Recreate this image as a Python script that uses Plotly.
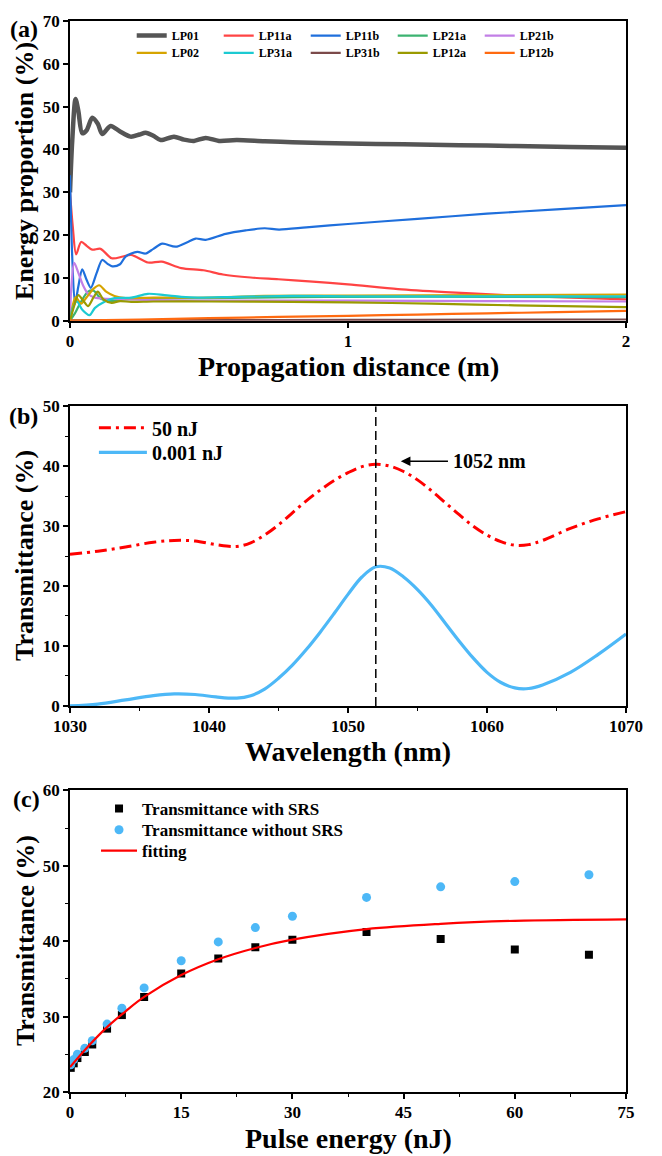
import plotly.graph_objects as go

FONT = "Liberation Serif"

# ---------------- Panel (a): mode energy vs propagation distance ----------------
LP01_x = [0, 0.008, 0.02, 0.03, 0.044, 0.06, 0.08, 0.1, 0.116, 0.146, 0.18, 0.218, 0.25, 0.272, 0.3, 0.326,
          0.374, 0.41, 0.446, 0.488, 0.536, 0.6, 0.7, 0.8, 1.0, 1.2, 1.4, 1.6, 1.8, 2.0]
LP01_y = [30, 42, 51.8, 49, 43.8, 44.5, 47.4, 46, 43.6, 45.5, 44.2, 43.0, 43.5, 43.9, 43.2, 42.2,
          43.0, 42.3, 42.0, 42.7, 42.0, 42.2, 41.9, 41.7, 41.4, 41.2, 41.0, 40.8, 40.6, 40.4]

LP11a_x = [0, 0.01, 0.022, 0.04, 0.06, 0.08, 0.11, 0.15, 0.19, 0.22, 0.28, 0.33, 0.4, 0.48, 0.55, 0.65,
           0.75, 0.86, 1.0, 1.18, 1.35, 1.53, 1.75, 2.0]
LP11a_y = [30, 22, 15.5, 18.4, 17.5, 16.6, 16.8, 14.6, 15.0, 15.4, 13.6, 13.8, 12.3, 11.8, 10.8, 10.1,
           9.7, 9.2, 8.5, 7.4, 6.7, 6.1, 5.5, 5.0]

LP11b_x = [0, 0.008, 0.018, 0.03, 0.044, 0.06, 0.075, 0.095, 0.116, 0.135, 0.152, 0.18, 0.2, 0.242, 0.272,
           0.3, 0.332, 0.38, 0.42, 0.452, 0.488, 0.56, 0.632, 0.7, 0.752, 0.85, 1.0, 1.25, 1.5, 1.75, 2.0]
LP11b_y = [34, 15, 4, 8, 12, 9.5, 7.7, 11, 14.2, 13.3, 12.7, 13.2, 15, 16.1, 15.7,
           16.8, 18, 17.3, 18.3, 19.2, 18.9, 20.3, 21.1, 21.6, 21.3, 21.8, 22.6, 23.8, 25.0, 26.0, 27.0]

LP21a_x = [0, 0.02, 0.04, 0.065, 0.085, 0.11, 0.14, 0.2, 0.3, 0.5, 0.8, 1.0, 1.5, 2.0]
LP21a_y = [0, 2.0, 4.5, 6.8, 7.0, 5.2, 4.6, 5.0, 5.2, 5.3, 5.5, 5.6, 5.6, 5.5]

LP21b_x = [0, 0.005, 0.015, 0.03, 0.048, 0.066, 0.09, 0.12, 0.2, 0.3, 0.5, 1.0, 1.5, 2.0]
LP21b_y = [0.5, 8, 13.5, 11.2, 8.1, 6.2, 5.4, 5.2, 5.0, 4.8, 4.7, 4.7, 4.6, 4.5]

LP02_x = [0, 0.02, 0.04, 0.06, 0.085, 0.105, 0.13, 0.16, 0.2, 0.3, 0.5, 0.7, 1.0, 1.5, 2.0]
LP02_y = [0, 5.5, 4.0, 5.5, 7.5, 8.3, 6.8, 5.8, 5.3, 5.4, 5.4, 5.8, 5.9, 6.0, 6.1]

LP31a_x = [0, 0.01, 0.025, 0.045, 0.07, 0.09, 0.126, 0.16, 0.22, 0.28, 0.34, 0.4, 0.46, 0.6, 0.8, 1.0, 1.5, 2.0]
LP31a_y = [0, 3, 4.5, 2.5, 1.3, 3.0, 4.5, 5.3, 5.4, 6.3, 6.0, 5.6, 5.4, 5.6, 5.8, 5.7, 5.7, 5.7]

LP31b_x = [0, 0.5, 1.0, 1.5, 2.0]
LP31b_y = [0.1, 0.15, 0.2, 0.25, 0.3]

LP12a_x = [0, 0.015, 0.03, 0.05, 0.065, 0.085, 0.1, 0.12, 0.15, 0.18, 0.22, 0.3, 0.5, 0.8, 1.0, 1.3, 1.6, 2.0]
LP12a_y = [0, 3.5, 6.0, 4.5, 3.4, 5.5, 6.8, 5.0, 4.2, 4.6, 4.4, 4.5, 4.5, 4.4, 4.3, 4.0, 3.6, 3.2]

LP12b_x = [0, 0.25, 0.5, 0.75, 1.0, 1.25, 1.5, 1.75, 2.0]
LP12b_y = [0.05, 0.3, 0.6, 0.9, 1.15, 1.45, 1.75, 2.0, 2.3]

# ---------------- Panel (b): transmittance spectra ----------------
wavelength = [1030, 1032, 1034, 1036, 1037.5, 1039, 1040.5, 1042, 1043, 1044, 1045, 1046, 1047, 1048, 1049,
              1050, 1051, 1052, 1053, 1054, 1055, 1056, 1057, 1058, 1059, 1060, 1061, 1062, 1063, 1064,
              1066, 1068, 1070]
trans_50nJ = [25.3, 25.8, 26.5, 27.3, 27.6, 27.5, 26.9, 26.6, 27.2, 28.5, 30.2, 32.2, 34.2, 36.0, 37.6,
              38.9, 39.9, 40.3, 40.0, 39.1, 37.7, 35.9, 33.9, 31.9, 30.0, 28.5, 27.4, 26.8, 26.9, 27.6,
              29.6, 31.2, 32.4]
trans_0001nJ = [0.0, 0.3, 1.0, 1.7, 2.0, 1.9, 1.5, 1.3, 1.7, 2.8, 4.6, 6.8, 9.4, 12.3, 15.4,
                18.6, 21.5, 23.2, 23.0, 21.5, 19.4, 16.8, 13.8, 10.8, 8.0, 5.6, 3.9, 3.0, 2.9, 3.5,
                5.6, 8.6, 12.0]
peak_wavelength = 1052
peak_label = "1052 nm"

# ---------------- Panel (c): transmittance vs pulse energy ----------------
pulse_energy = [0.1, 0.5, 1, 2, 3, 5, 7, 10, 15, 20, 25, 30, 40, 50, 60, 70]
trans_with_srs = [23.2, 23.8, 24.5, 25.3, 26.3, 28.4, 30.2, 32.6, 35.7, 37.7, 39.2, 40.2, 41.2, 40.3, 38.9, 38.2]
trans_without_srs = [23.6, 24.3, 25.0, 25.8, 26.8, 29.0, 31.1, 33.8, 37.4, 39.9, 41.8, 43.3, 45.8, 47.2, 47.9, 48.8]
fit_energy = [0, 2.5, 5, 7.5, 10, 15, 20, 25, 30, 40, 50, 60, 75]
fit_trans = [23.3, 26.1, 28.6, 30.7, 32.6, 35.5, 37.6, 39.1, 40.2, 41.6, 42.3, 42.7, 42.9]

# ---------------- Figure ----------------
fig = go.Figure()

row1 = [("LP01", LP01_x, LP01_y, "#555555", 4.5),
        ("LP11a", LP11a_x, LP11a_y, "#FF4444", 2.2),
        ("LP11b", LP11b_x, LP11b_y, "#1F6FDC", 2.2),
        ("LP21a", LP21a_x, LP21a_y, "#3CB371", 2.2),
        ("LP21b", LP21b_x, LP21b_y, "#C27FE6", 2.2)]
row2 = [("LP02", LP02_x, LP02_y, "#D6A400", 2.2),
        ("LP31a", LP31a_x, LP31a_y, "#1CCAD2", 2.2),
        ("LP31b", LP31b_x, LP31b_y, "#7B4A4A", 2.2),
        ("LP12a", LP12a_x, LP12a_y, "#9A9A00", 2.2),
        ("LP12b", LP12b_x, LP12b_y, "#FF6A10", 2.2)]
for lg, group in (("legend", row1), ("legend2", row2)):
    for name, xs, ys, color, w in group:
        fig.add_trace(go.Scatter(x=xs, y=ys, mode="lines", name=name, legend=lg,
                                 line=dict(color=color, width=w, shape="spline", smoothing=0.8),
                                 xaxis="x", yaxis="y"))

fig.add_trace(go.Scatter(x=wavelength, y=trans_50nJ, mode="lines", name="50 nJ", legend="legend3",
                         line=dict(color="#FF0000", width=3, dash="12px,5px,3px,5px", shape="spline"),
                         xaxis="x2", yaxis="y2"))
fig.add_trace(go.Scatter(x=wavelength, y=trans_0001nJ, mode="lines", name="0.001 nJ", legend="legend4",
                         line=dict(color="#4DB8F7", width=3.2, shape="spline"),
                         xaxis="x2", yaxis="y2"))

fig.add_trace(go.Scatter(x=pulse_energy, y=trans_with_srs, mode="markers", name="Transmittance with SRS",
                         legend="legend5", marker=dict(symbol="square", size=8, color="black"),
                         xaxis="x3", yaxis="y3"))
fig.add_trace(go.Scatter(x=pulse_energy, y=trans_without_srs, mode="markers", name="Transmittance without SRS",
                         legend="legend6", marker=dict(symbol="circle", size=9, color="#4DB8F7"),
                         xaxis="x3", yaxis="y3"))
fig.add_trace(go.Scatter(x=fit_energy, y=fit_trans, mode="lines", name="fitting", legend="legend7",
                         line=dict(color="#FF0000", width=2.2, shape="spline"),
                         xaxis="x3", yaxis="y3"))

tickfont = dict(family=FONT, size=17, color="black", weight="bold")


def axis(**kw):
    base = dict(showline=True, linecolor="black", linewidth=1.6, mirror=True, ticks="outside",
                ticklen=5, tickwidth=1.6, tickcolor="black", showgrid=False, zeroline=False,
                tickfont=tickfont)
    base.update(kw)
    return base


def minor(d):
    return dict(ticks="outside", ticklen=3, tickwidth=1.4, tickcolor="black", dtick=d, showgrid=False)


dom_a = [0.7201, 1.0]
dom_b = [0.3605, 0.6404]
dom_c = [0.0, 0.2817]


def leg(x, y, size, orientation="v", **kw):
    d = dict(orientation=orientation, x=x, y=y, xanchor="left", yanchor="middle",
             bgcolor="rgba(0,0,0,0)", borderwidth=0, tracegroupgap=0,
             font=dict(family=FONT, size=size, color="black", weight="bold"))
    d.update(kw)
    return d


fig.update_layout(
    width=662, height=1156,
    margin=dict(l=70, r=36, t=13, b=64),
    paper_bgcolor="white", plot_bgcolor="white",
    font=dict(family=FONT, color="black", weight="bold"),
    xaxis=axis(domain=[0, 1], anchor="y", range=[0, 2], dtick=1, ticklabelstandoff=-1),
    yaxis=axis(domain=dom_a, anchor="x", range=[0, 70], dtick=10),
    xaxis2=axis(domain=[0, 1], anchor="y2", range=[1030, 1070], dtick=10, minor=minor(5),
                ticklabelstandoff=-1),
    yaxis2=axis(domain=dom_b, anchor="x2", range=[0, 50], dtick=10, minor=minor(5)),
    xaxis3=axis(domain=[0, 1], anchor="y3", range=[0, 75], dtick=15, minor=minor(7.5),
                ticklabelstandoff=-1),
    yaxis3=axis(domain=dom_c, anchor="x3", range=[20, 60], dtick=10, minor=minor(5)),
    legend=leg(0.111, 0.9864, 12, "h", entrywidth=42, entrywidthmode="pixels"),
    legend2=leg(0.111, 0.9703, 12, "h", entrywidth=42, entrywidthmode="pixels"),
    legend3=leg(0.043, 0.6201, 20, itemwidth=48),
    legend4=leg(0.043, 0.5972, 20, itemwidth=48),
    legend5=leg(0.0468, 0.2644, 17, itemwidth=36),
    legend6=leg(0.0468, 0.2444, 17, itemwidth=36),
    legend7=leg(0.0468, 0.2249, 17, itemwidth=36),
    showlegend=True,
)

fig.add_shape(type="line", xref="x2", yref="y2", x0=peak_wavelength, x1=peak_wavelength, y0=0, y1=50,
              line=dict(color="black", width=1.5, dash="9px,5px"))

title_font = dict(family=FONT, size=28, color="black", weight="bold")
ytitle_font = dict(family=FONT, size=26, color="black", weight="bold")
label_font = dict(family=FONT, size=24, color="black", weight="bold")

annotations = [
    # arrow to peak
    dict(x=peak_wavelength + 1.8, y=40.8, ax=peak_wavelength + 5.3, ay=40.8, xref="x2", yref="y2",
         axref="x2", ayref="y2", text="", showarrow=True, arrowhead=2, arrowsize=1.2, arrowwidth=1.6,
         arrowcolor="black"),
    dict(x=peak_wavelength + 5.4, y=40.8, xref="x2", yref="y2", text=peak_label, showarrow=False,
         xanchor="left", yanchor="middle", font=dict(family=FONT, size=20, color="black", weight="bold")),
    # x titles
    dict(x=0.5, y=0.6775, xref="paper", yref="paper", text="Propagation distance (m)", showarrow=False,
         xanchor="center", yanchor="middle", font=title_font),
    dict(x=0.5, y=0.3180, xref="paper", yref="paper", text="Wavelength (nm)", showarrow=False,
         xanchor="center", yanchor="middle", font=title_font),
    dict(x=0.5, y=-0.0435, xref="paper", yref="paper", text="Pulse energy (nJ)", showarrow=False,
         xanchor="center", yanchor="middle", font=title_font),
    # y titles
    dict(x=-0.0809, y=0.860, xref="paper", yref="paper", text="Energy proportion (%)", showarrow=False,
         textangle=-90, xanchor="center", yanchor="middle", font=ytitle_font),
    dict(x=-0.0809, y=0.5005, xref="paper", yref="paper", text="Transmittance (%)", showarrow=False,
         textangle=-90, xanchor="center", yanchor="middle", font=ytitle_font),
    dict(x=-0.0809, y=0.1409, xref="paper", yref="paper", text="Transmittance (%)", showarrow=False,
         textangle=-90, xanchor="center", yanchor="middle", font=ytitle_font),
    # panel labels
    dict(x=-0.083, y=0.9926, xref="paper", yref="paper", text="(a)", showarrow=False,
         xanchor="center", yanchor="middle", font=label_font),
    dict(x=-0.083, y=0.6311, xref="paper", yref="paper", text="(b)", showarrow=False,
         xanchor="center", yanchor="middle", font=label_font),
    dict(x=-0.079, y=0.2734, xref="paper", yref="paper", text="(c)", showarrow=False,
         xanchor="center", yanchor="middle", font=label_font),
]
fig.update_layout(annotations=annotations)

fig.write_html("out.html", config={"displayModeBar": False},
               post_script="document.body.style.margin='0';document.body.style.overflow='hidden';")
